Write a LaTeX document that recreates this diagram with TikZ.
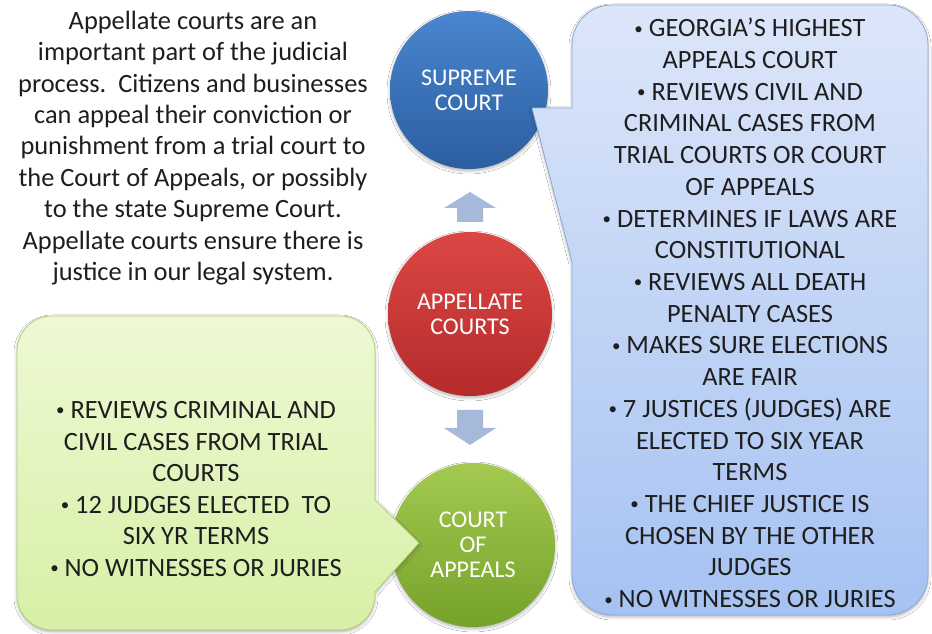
\documentclass[tikz,border=0pt]{standalone}
\usepackage{fontspec}
\setmainfont{Carlito}
\usetikzlibrary{shadows.blur}

\definecolor{supremetop}{HTML}{4A86CF}
\definecolor{supremebot}{HTML}{2B5E9F}
\definecolor{appeltop}{HTML}{DC4745}
\definecolor{appelbot}{HTML}{B52B2A}
\definecolor{coatop}{HTML}{A3C950}
\definecolor{coabot}{HTML}{76A22A}
\definecolor{arrowfill}{HTML}{A6B9DA}
\definecolor{bluetop}{HTML}{DCE6F9}
\definecolor{bluebot}{HTML}{A6C2F2}
\definecolor{blueedge}{HTML}{8CA8D6}
\definecolor{greentop}{HTML}{EEF9D4}
\definecolor{greenbot}{HTML}{D6F0A6}
\definecolor{greenedge}{HTML}{B3CD7A}
\definecolor{inktext}{HTML}{1E1E1E}

% small list bullet
\newcommand{\listdot}{\raisebox{2.6pt}{\fontsize{17}{17}\selectfont •}}

\begin{document}
\begin{tikzpicture}[x=1pt,y=1pt,
  softshadow/.style={blur shadow={shadow xshift=0pt, shadow yshift=-2pt,
      shadow blur radius=3pt, shadow opacity=30}},
  court/.style={circle, minimum size=#1, inner sep=0pt, text=white,
      align=center, font=\fontsize{24}{25}\selectfont, softshadow},
  blockarrow/.style={fill=arrowfill, draw=none},
  bluecallout/.style={draw=blueedge, line width=0.8pt, line join=round,
      top color=bluetop, bottom color=bluebot, softshadow},
  greencallout/.style={draw=greenedge, line width=0.8pt, line join=round,
      top color=greentop, bottom color=greenbot, softshadow},
  bodytext/.style={align=center, text=inktext, inner sep=0pt,
      font=\fontsize{26.4}{31.4}\selectfont},
]
\useasboundingbox (0,0) rectangle (932,634);
\fill[white] (0,0) rectangle (932,634);

% the three courts
\node[court=158pt, top color=supremetop, bottom color=supremebot]
  (supreme) at (469,544) {SUPREME\\COURT};
\node[court=164pt, top color=appeltop, bottom color=appelbot]
  (appellate) at (470,320) {APPELLATE\\COURTS};
\node[court=164pt, top color=coatop, bottom color=coabot]
  (coa) at (473,89) {COURT\\OF\\APPEALS};

% block arrows between the courts
\path[blockarrow] (457,412) -- (457,426) -- (444,426) -- (470,442)
  -- (496,426) -- (483,426) -- (483,412) -- cycle;
\path[blockarrow] (457,224) -- (457,206) -- (444,206) -- (470,189)
  -- (496,206) -- (483,206) -- (483,224) -- cycle;

% callout for the Supreme Court
\path[bluecallout] (572,526) -- (572,589) arc[start angle=180,end angle=90,radius=40]
  -- (888,629) arc[start angle=90,end angle=0,radius=40]
  -- (928,59) arc[start angle=0,end angle=-90,radius=40]
  -- (612,19) arc[start angle=270,end angle=180,radius=40]
  -- (572,372) -- (532,526) -- cycle;

% callout for the Court of Appeals
\path[greencallout] (375,134) -- (375,283) arc[start angle=0,end angle=90,radius=35]
  -- (52,318) arc[start angle=90,end angle=180,radius=35]
  -- (17,39) arc[start angle=180,end angle=270,radius=35]
  -- (340,4) arc[start angle=270,end angle=360,radius=35]
  -- (375,42) -- (419,91) -- cycle;

% texts
\node[bodytext] (intro) at (193,486) {Appellate courts are an\\
  important part of the judicial\\
  process.\ \ Citizens and businesses\\
  can appeal their conviction or\\
  punishment from a trial court to\\
  the Court of Appeals, or possibly\\
  to the state Supreme Court.\\
  Appellate courts ensure there is\\
  justice in our legal system.};

\node[bodytext, font=\fontsize{26.4}{31.72}\selectfont] (supremefacts) at (750,321) {%
  \listdot{} GEORGIA’S HIGHEST\\
  APPEALS COURT\\
  \listdot{} REVIEWS CIVIL AND\\
  CRIMINAL CASES FROM\\
  TRIAL COURTS OR COURT\\
  OF APPEALS\\
  \listdot{} DETERMINES IF LAWS ARE\\
  CONSTITUTIONAL\\
  \listdot{} REVIEWS ALL DEATH\\
  PENALTY CASES\\
  \listdot{} MAKES SURE ELECTIONS\\
  ARE FAIR\\
  \listdot{} 7 JUSTICES (JUDGES) ARE\\
  ELECTED TO SIX YEAR\\
  TERMS\\
  \listdot{} THE CHIEF JUSTICE IS\\
  CHOSEN BY THE OTHER\\
  JUDGES\\
  \listdot{} NO WITNESSES OR JURIES};

\node[bodytext, font=\fontsize{26.4}{31.6}\selectfont] (coafacts) at (196,145) {%
  \listdot{} REVIEWS CRIMINAL AND\\
  CIVIL CASES FROM TRIAL\\
  COURTS\\
  \listdot{} 12 JUDGES ELECTED\ \ TO\\
  SIX YR TERMS\\
  \listdot{} NO WITNESSES OR JURIES};
\end{tikzpicture}
\end{document}
